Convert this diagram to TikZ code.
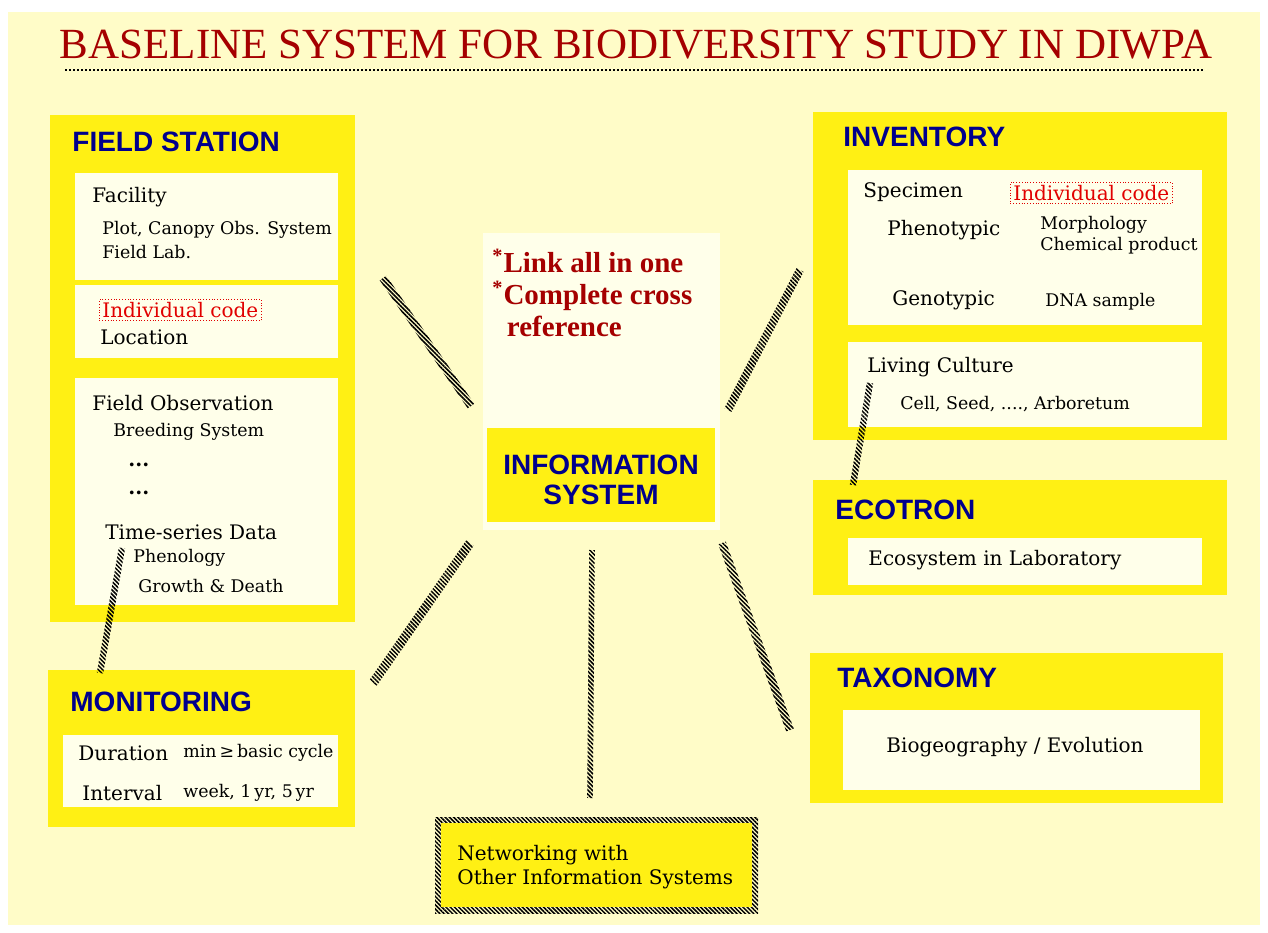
\documentclass[tikz,border=0pt]{standalone}
\usepackage{fontspec}
\setmainfont{DejaVu Serif}
\newfontfamily\headfont{Liberation Sans}
\newfontfamily\titlefont{Liberation Serif}
\usetikzlibrary{calc,patterns.meta}

\definecolor{bgyellow}{RGB}{255,252,200}
\definecolor{boxyellow}{RGB}{255,240,20}
\definecolor{paneldot}{RGB}{255,255,234}
\definecolor{headblue}{RGB}{0,0,140}
\definecolor{titlered}{RGB}{165,0,0}
\definecolor{codered}{RGB}{225,0,0}

\tikzset{
  outer/.style={fill=boxyellow},
  panel/.style={fill=paneldot},
  head/.style={anchor=west,inner sep=0pt,text=headblue,
    font=\headfont\bfseries\fontsize{14}{16}\selectfont},
  txt/.style={anchor=west,inner sep=0pt,font=\fontsize{10}{12}\selectfont},
  small/.style={anchor=west,inner sep=0pt,font=\fontsize{8.7}{10.5}\selectfont},
  codebox/.style={anchor=west,inner sep=1.5pt,draw=codered,densely dotted,
    text=codered,font=\fontsize{10}{12}\selectfont},
  hatch/.style={pattern={Lines[angle=-45,distance=1.5pt,line width=0.75pt]}}
}

% thick hatched band between two named points
\newcommand{\hatchlink}[3][2pt]{%
  \fill[hatch] ($(#2)!#1!90:(#3)$) -- ($(#2)!#1!-90:(#3)$)
    -- ($(#3)!#1!90:(#2)$) -- ($(#3)!#1!-90:(#2)$) -- cycle;}

\begin{document}
\begin{tikzpicture}[x=0.5pt,y=-0.5pt]
  \useasboundingbox (0,0) rectangle (1268,932);
  \fill[bgyellow] (8,12) rectangle (1260,925);

  % title
  \node[font=\titlefont\fontsize{21.5}{24}\selectfont,text=titlered] (title)
    at (636,45) {BASELINE SYSTEM FOR BIODIVERSITY STUDY IN DIWPA};
  \draw[densely dotted,line width=1pt] (65,70) -- (1205,70);

  % field station
  \path[outer] (50,115) rectangle (355,622);
  \path[panel] (75,173) rectangle (338,280);
  \path[panel] (75,285) rectangle (338,358);
  \path[panel] (75,378) rectangle (338,605);
  \node[head] (fs) at (72,142) {FIELD STATION};
  \node[txt] (facility) at (92,197) {Facility};
  \node[small] (plot) at (102,230) {Plot, Canopy Obs. System};
  \node[small] (lab) at (102,252) {Field Lab.};
  \node[codebox] (fscode) at (99,310) {Individual code};
  \node[txt] (location) at (100,337) {Location};
  \node[txt] (fieldobs) at (92,403) {Field Observation};
  \node[small] (breeding) at (113,432) {Breeding System};
  \node[small,font=\bfseries] (dots1) at (128,465) {...};
  \node[small,font=\bfseries] (dots2) at (128,493) {...};
  \node[txt] (timeseries) at (105,532) {Time-series Data};
  \node[small] (phenology) at (133,558) {Phenology};
  \node[small] (growth) at (138,586) {Growth \& Death};

  % monitoring
  \path[outer] (48,670) rectangle (355,827);
  \path[panel] (63,735) rectangle (338,807);
  \node[head] (mon) at (70,702) {MONITORING};
  \node[txt] (duration) at (78,753) {Duration};
  \node[small] (mincycle) at (183,753) {min\,≥\,basic cycle};
  \node[txt] (interval) at (82,793) {Interval};
  \node[small] (weeks) at (183,793) {week, 1\,yr, 5\,yr};

  % inventory
  \path[outer] (813,112) rectangle (1227,440);
  \path[panel] (848,170) rectangle (1202,325);
  \path[panel] (848,342) rectangle (1202,427);
  \node[head] (inv) at (843,137) {INVENTORY};
  \node[txt] (specimen) at (863,192) {Specimen};
  \node[codebox] (invcode) at (1010,193) {Individual code};
  \node[txt] (pheno) at (887,230) {Phenotypic};
  \node[small,align=left] (morph) at (1040,235) {Morphology\\Chemical product};
  \node[txt] (geno) at (892,300) {Genotypic};
  \node[small] (dna) at (1045,302) {DNA sample};
  \node[txt] (living) at (867,367) {Living Culture};
  \node[small] (cell) at (900,404) {Cell, Seed, ...., Arboretum};

  % ecotron
  \path[outer] (813,480) rectangle (1227,595);
  \path[panel] (848,538) rectangle (1202,585);
  \node[head] (eco) at (835,510) {ECOTRON};
  \node[txt] (ecolab) at (868,560) {Ecosystem in Laboratory};

  % taxonomy
  \path[outer] (810,653) rectangle (1223,803);
  \path[panel] (843,710) rectangle (1200,790);
  \node[head] (tax) at (837,678) {TAXONOMY};
  \node[txt,anchor=center] (bio) at (1015,747) {Biogeography / Evolution};

  % information system
  \path[panel] (483,233) rectangle (720,530);
  \path[outer] (487,428) rectangle (715,522);
  \node[head,anchor=center,align=center,font=\headfont\bfseries\fontsize{14}{15}\selectfont]
    (info) at (601,480) {INFORMATION\\SYSTEM};
  \node[anchor=west,inner sep=0pt,align=left,text=titlered,
    font=\titlefont\bfseries\fontsize{14.5}{16}\selectfont] (link) at (492,293)
    {\textsuperscript{*}Link all in one\\\textsuperscript{*}Complete cross\\\ \ reference};

  % networking
  \fill[hatch] (435,817) rectangle (758,913);
  \path[outer] (441,823) rectangle (752,907);
  \node[txt,align=left] (net) at (457,867) {Networking with\\Other Information Systems};

  % hatched links
  \coordinate (l1a) at (383,278);  \coordinate (l1b) at (471,406);
  \coordinate (l2a) at (800,270);  \coordinate (l2b) at (728,410);
  \coordinate (l3a) at (470,543);  \coordinate (l3b) at (373,683);
  \coordinate (l4a) at (592,550);  \coordinate (l4b) at (590,798);
  \coordinate (l5a) at (722,543);  \coordinate (l5b) at (790,730);
  \coordinate (l6a) at (122,548);  \coordinate (l6b) at (100,673);
  \coordinate (l7a) at (870,383);  \coordinate (l7b) at (853,485);
  \hatchlink{l1a}{l1b}
  \hatchlink{l2a}{l2b}
  \hatchlink[2.3pt]{l3a}{l3b}
  \hatchlink[1.4pt]{l4a}{l4b}
  \hatchlink{l5a}{l5b}
  \hatchlink[1.6pt]{l6a}{l6b}
  \hatchlink[1.6pt]{l7a}{l7b}
\end{tikzpicture}
\end{document}
